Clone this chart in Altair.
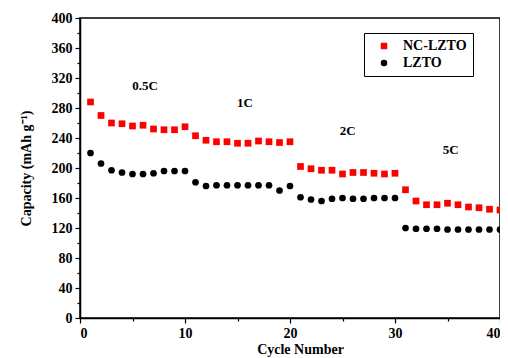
import altair as alt
import pandas as pd

cycles = list(range(1, 41))
nc_lzto = [288, 270, 260, 259, 256, 257, 252, 251, 251, 255,
           243, 237, 235, 235, 233, 233, 236, 235, 234, 235,
           202, 199, 197, 197, 192, 194, 194, 193, 192, 193,
           171, 156, 151, 151, 153, 151, 148, 147, 145, 144]
lzto = [220, 206, 197, 194, 192, 192, 193, 196, 196, 196,
        181, 176, 177, 177, 177, 177, 177, 177, 170, 176,
        161, 158, 156, 159, 160, 159, 159, 160, 160, 160,
        120, 119, 119, 119, 118, 118, 118, 118, 118, 118]
series_names = ["NC-LZTO", "LZTO"]
series_colors = ["#ff0000", "#000000"]
series_shapes = ["square", "circle"]

rate_labels = ["0.5C", "1C", "2C", "5C"]
rate_x = [6.2, 15.7, 25.5, 35.3]
rate_y = [310, 287, 249, 224]

x_ticks = [0, 5, 10, 15, 20, 25, 30, 35, 40]
y_ticks = list(range(0, 401, 20))

rows = []
for c, v in zip(cycles, nc_lzto):
    rows.append({"cycle": c, "cap": v, "series": "NC-LZTO"})
for c, v in zip(cycles, lzto):
    rows.append({"cycle": c, "cap": v, "series": "LZTO"})
df = pd.DataFrame(rows)
ann = pd.DataFrame({"label": rate_labels, "cycle": rate_x, "cap": rate_y})

FONT = "Liberation Serif"

x_enc = alt.X("cycle:Q", scale=alt.Scale(domain=[0, 40], nice=False),
              axis=alt.Axis(title="Cycle Number", values=x_ticks, labelOverlap=False,
                            labelExpr="datum.value % 10 == 0 ? datum.label : ''",
                            tickSize={"condition": {"test": "datum.value % 10 != 0", "value": 3}, "value": 5},
                            grid=False, titlePadding=2, titleX=220))
y_enc = alt.Y("cap:Q", scale=alt.Scale(domain=[0, 400], nice=False),
              axis=alt.Axis(title="Capacity (mAh g⁻¹)", values=y_ticks, labelOverlap=False,
                            labelExpr="datum.value % 40 == 0 ? datum.label : ''",
                            tickSize={"condition": {"test": "datum.value % 40 != 0", "value": 3}, "value": 5},
                            grid=False, titlePadding=18))

points = alt.Chart(df).mark_point(filled=True, size=45, opacity=1).encode(
    x=x_enc,
    y=y_enc,
    color=alt.Color("series:N", scale=alt.Scale(domain=series_names, range=series_colors),
                    legend=alt.Legend(title=None, orient="none", legendX=284, legendY=15,
                                      strokeColor="black", fillColor="white",
                                      padding=6, symbolOffset=7, labelFont=FONT,
                                      labelFontWeight="bold", labelFontSize=14,
                                      symbolSize=42, rowPadding=3, labelOffset=12)),
    shape=alt.Shape("series:N", scale=alt.Scale(domain=series_names, range=series_shapes),
                    legend=None),
    order=alt.Order("series:N", sort="descending"),
)

text = alt.Chart(ann).mark_text(font=FONT, fontWeight="bold", fontSize=13, color="black").encode(
    x=x_enc, y=y_enc, text="label:N"
)

chart = alt.layer(points, text).properties(
    width=420, height=300,
    autosize=alt.AutoSizeParams(type="none"),
    padding={"left": 72, "top": 10, "right": 0, "bottom": 40},
).configure_view(stroke="black", strokeWidth=1.5).configure_axis(
    labelFont=FONT, labelFontWeight="bold", labelFontSize=14, labelColor="black",
    titleFont=FONT, titleFontWeight="bold", titleFontSize=14, titleColor="black",
    domainColor="black", domainWidth=1.5, tickColor="black", tickWidth=1.2,
    labelPadding=3,
)

chart.save("out.html", embed_options={"renderer": "svg", "actions": False})
